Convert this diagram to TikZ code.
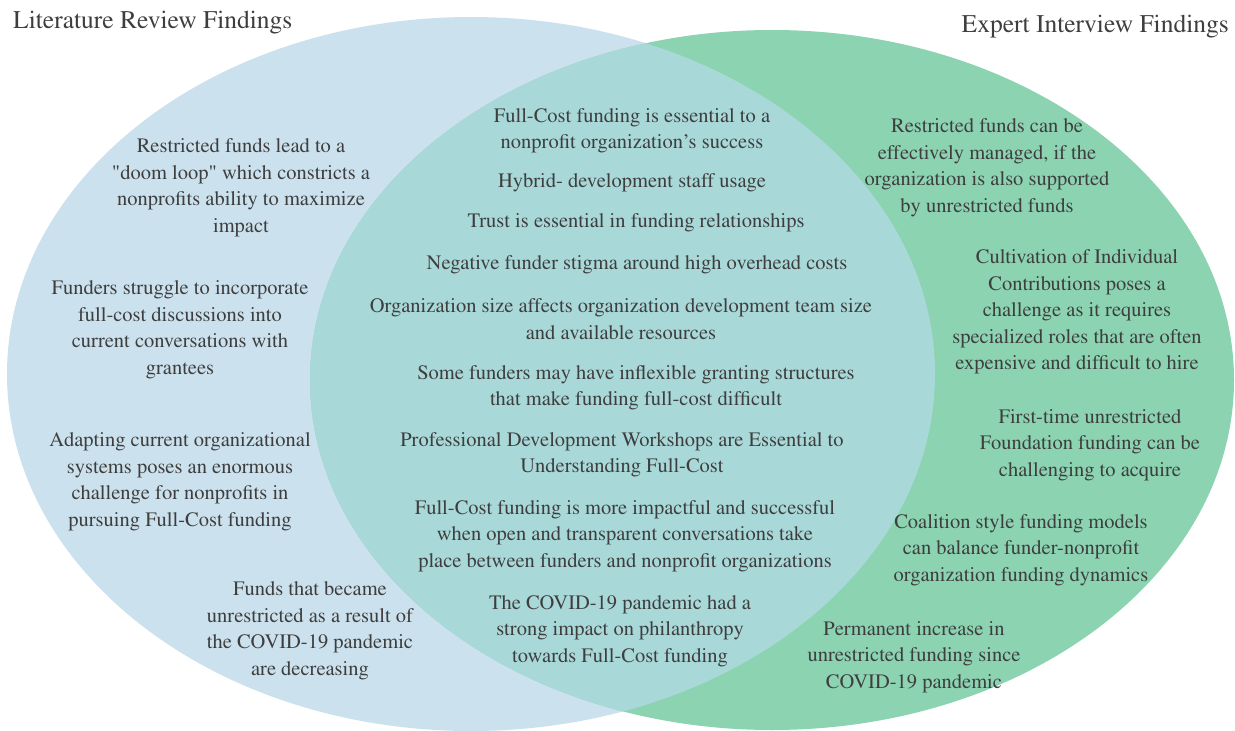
\documentclass[tikz,border=0pt]{standalone}
\usepackage[T1]{fontenc}
\usepackage{times}
\usepackage{xcolor}
\definecolor{litblue}{RGB}{203,225,237}
\definecolor{expgreen}{RGB}{139,211,177}
\definecolor{bothteal}{RGB}{169,216,217}
\definecolor{txtgray}{RGB}{62,62,62}

\begin{document}
\begin{tikzpicture}[x=1pt,y=-1pt,
  finding/.style={align=center,text=txtgray,inner sep=0pt,
                  font=\fontsize{20.5}{26.5}\selectfont},
  heading/.style={text=txtgray,inner sep=0pt,
                  font=\fontsize{25.5}{30}\selectfont}]

\useasboundingbox (0,0) rectangle (1235,731);

% the two sets and their overlap
\fill[litblue] (471,374) ellipse [x radius=464, y radius=357];
\fill[expgreen] (772,380) ellipse [x radius=462, y radius=350];
\begin{scope}
  \clip (471,374) ellipse [x radius=464, y radius=357];
  \fill[bothteal] (772,380) ellipse [x radius=462, y radius=350];
\end{scope}

\node[heading,anchor=west] (litT) at (13,23) {Literature Review Findings};
\node[heading,anchor=east] (expT) at (1229,27) {Expert Interview Findings};

% literature review only
\node[finding] (L1) at (241,188) {Restricted funds lead to a\\"doom loop" which constricts a\\nonprofits ability to maximize\\impact};
\node[finding] (L2) at (180,330) {Funders struggle to incorporate\\full-cost discussions into\\current conversations with\\grantees};
\node[finding] (L3) at (180,482) {Adapting current organizational\\systems poses an enormous\\challenge for nonprofits in\\pursuing Full-Cost funding};
\node[finding] (L4) at (310,631) {Funds that became\\unrestricted as a result of\\the COVID-19 pandemic\\are decreasing};

% both sources
\node[finding] (B1) at (632,131) {Full-Cost funding is essential to a\\nonprofit organization's success};
\node[finding] (B2) at (632,183) {Hybrid- development staff usage};
\node[finding] (B3) at (636,223) {Trust is essential in funding relationships};
\node[finding] (B4) at (637,265) {Negative funder stigma around high overhead costs};
\node[finding] (B5) at (621,319) {Organization size affects organization development team size\\and available resources};
\node[finding] (B6) at (636,388) {Some funders may have inflexible granting structures\\that make funding full-cost difficult};
\node[finding] (B7) at (622,455) {Professional Development Workshops are Essential to\\Understanding Full-Cost};
\node[finding] (B8) at (625,536) {Full-Cost funding is more impactful and successful\\when open and transparent conversations take\\place between funders and nonprofit organizations};
\node[finding] (B9) at (620,631) {The COVID-19 pandemic had a\\strong impact on philanthropy\\towards Full-Cost funding};

% expert interviews only
\node[finding] (E1) at (987,168) {Restricted funds can be\\effectively managed, if the\\organization is also supported\\by unrestricted funds};
\node[finding] (E2) at (1077,312) {Cultivation of Individual\\Contributions poses a\\challenge as it requires\\specialized roles that are often\\expensive and difficult to hire};
\node[finding] (E3) at (1090,445) {First-time unrestricted\\Foundation funding can be\\challenging to acquire};
\node[finding] (E4) at (1021,550) {Coalition style funding models\\can balance funder-nonprofit\\organization funding dynamics};
\node[finding] (E5) at (914,657) {Permanent increase in\\unrestricted funding since\\COVID-19 pandemic};
\end{tikzpicture}
\end{document}
